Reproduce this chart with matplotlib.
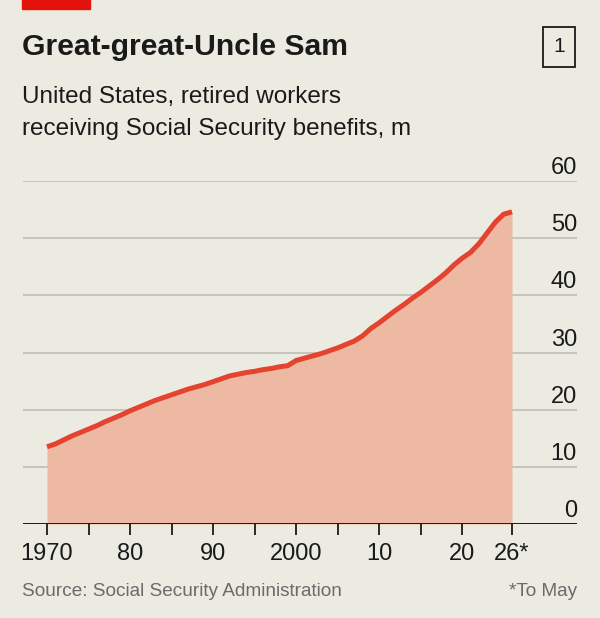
import matplotlib
matplotlib.use("Agg")
import matplotlib.pyplot as plt
from matplotlib import font_manager
from matplotlib.patches import Rectangle
from matplotlib.transforms import offset_copy

# fonts: use a narrow face if it is there
names = {f.name for f in font_manager.fontManager.ttflist}
FONT = "Liberation Sans Narrow" if "Liberation Sans Narrow" in names else "Liberation Sans"
plt.rcParams["font.family"] = [FONT, "DejaVu Sans"]

# data (millions)
years = list(range(1970, 2027))
retired = [13.5, 14.0, 14.7, 15.4, 16.0, 16.6, 17.2, 17.9, 18.5, 19.1,
           19.8, 20.4, 21.0, 21.6, 22.1, 22.6, 23.1, 23.6, 24.0, 24.4,
           24.9, 25.4, 25.9, 26.2, 26.5, 26.7, 27.0, 27.2, 27.5, 27.7,
           28.6, 29.0, 29.4, 29.8, 30.3, 30.8, 31.4, 32.0, 32.9, 34.2,
           35.2, 36.3, 37.4, 38.4, 39.5, 40.5, 41.6, 42.7, 43.9, 45.3,
           46.5, 47.5, 49.0, 50.9, 52.8, 54.2, 54.6]
x_ticks = [1970, 1975, 1980, 1985, 1990, 1995, 2000, 2005, 2010, 2015, 2020, 2026]
x_labels = ["1970", "", "80", "", "90", "", "2000", "", "10", "", "20", "26*"]
y_ticks = [0, 10, 20, 30, 40, 50, 60]

BG = "#ecebe1"
RED = "#e3432f"
FILL = "#edb9a2"
GRID = "#bfbdb5"
TXT = "#1a1a1a"

W, H = 600, 618
fig = plt.figure(figsize=(W / 100, H / 100), dpi=100, facecolor=BG)
ax = fig.add_axes([23 / W, 1 - 524 / H, (577 - 23) / W, (524 - 181) / H])
ax.set_facecolor(BG)

ax.fill_between(years, retired, 0, color=FILL, lw=0, zorder=1)
ax.plot(years, retired, color=RED, lw=3.6, solid_capstyle="butt", zorder=3)

ax.set_xlim(1970 - 24 / 8.304, 2026 + 65 / 8.304)
ax.set_ylim(0, 60)

for v in y_ticks[1:]:
    ax.axhline(v, color=GRID, lw=1.2, zorder=0.5)
lab_tr = offset_copy(ax.get_yaxis_transform(), fig=fig, x=0, y=2, units="dots")
for v in y_ticks:
    ax.text(1, v, str(v), transform=lab_tr, ha="right",
            va="bottom", fontsize=17, color=TXT)
ax.axhline(0, color=TXT, lw=1.4, zorder=4)

ax.set_yticks([])
ax.set_xticks(x_ticks)
ax.set_xticklabels(x_labels, fontsize=17, color=TXT)
ax.tick_params(axis="x", length=8, width=1.3, color=TXT, pad=6)
for s in ax.spines.values():
    s.set_visible(False)

# header / footer
fig.patches.append(Rectangle((22 / W, 1 - 9 / H), 68 / W, 9 / H,
                             transform=fig.transFigure, color="#e3120b"))
fig.text(22 / W, 1 - 47 / H, "Great-great-Uncle Sam", fontsize=21.7,
         fontweight="bold", color=TXT, va="center")
fig.text(559 / W, 1 - 47 / H, "1", fontsize=15, color=TXT, ha="center", va="center",
         bbox=dict(boxstyle="square,pad=0.5", fc="none", ec=TXT, lw=1.3))
fig.text(22 / W, 1 - 97 / H, "United States, retired workers", fontsize=17.5,
         color=TXT, va="center")
fig.text(22 / W, 1 - 129 / H, "receiving Social Security benefits, m", fontsize=17.5,
         color=TXT, va="center")
fig.text(22 / W, 1 - 592 / H, "Source: Social Security Administration",
         fontsize=13.7, color="#6b6b6b", va="center")
fig.text(577 / W, 1 - 592 / H, "*To May", fontsize=13.7, color="#6b6b6b",
         ha="right", va="center")

fig.savefig("out.png", dpi=100, facecolor=BG)
